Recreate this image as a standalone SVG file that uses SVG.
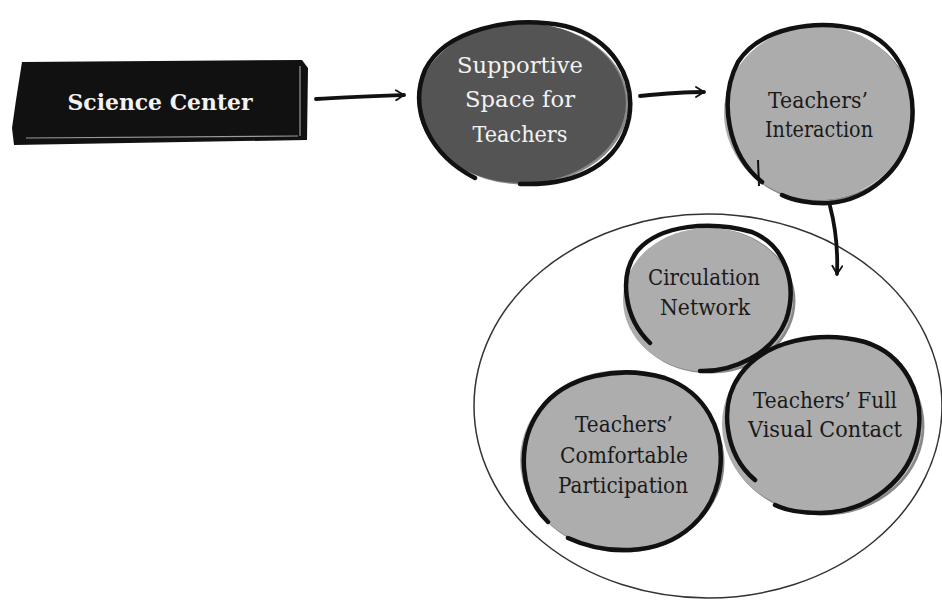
<svg xmlns="http://www.w3.org/2000/svg" width="942" height="603" viewBox="0 0 942 603">
  <style>
    .lbl { font-family: "DejaVu Serif", serif; font-size: 23px; text-anchor: middle; }
    .dark { fill: #f2f2f2; }
    .light { fill: #1a1a1a; }
    .ink { fill: none; stroke: #111; stroke-width: 4.5; stroke-linecap: round; }
    .halo { fill: none; stroke: #8a8a8a; stroke-width: 3; }
    .conn { fill: none; stroke: #111; stroke-width: 3.8; stroke-linecap: round; }
  </style>
  <defs>
    <marker id="chev" viewBox="0 0 12 12" refX="10" refY="6" markerWidth="12" markerHeight="12" markerUnits="userSpaceOnUse" orient="auto">
      <path d="M2 1 L10 6 L2 11" fill="none" stroke="#111" stroke-width="1.8" stroke-linecap="round"/>
    </marker>
  </defs>
  <rect width="942" height="603" fill="#ffffff"/>

  <!-- enclosing ellipse for the three interaction factors -->
  <ellipse cx="708" cy="406" rx="234" ry="192" fill="none" stroke="#333" stroke-width="1.5"/>

  <g id="science-center">
    <path d="M22 62 L302 60 L308 68 L307 140 L14 145 L12 128 L16 100 Z" fill="#111"/>
    <path d="M300 66 L300 136 M26 138 L298 136" stroke="#9a9a9a" stroke-width="1.2" fill="none"/>
    <text class="lbl dark" x="160" y="110" font-weight="bold" font-size="26" textLength="185" lengthAdjust="spacingAndGlyphs">Science Center</text>
  </g>

  <g id="supportive-space">
    <ellipse cx="524" cy="104" rx="103" ry="79" class="halo"/>
    <ellipse cx="522" cy="103" rx="104" ry="80" fill="#545454"/>
    <path d="M475 178 C430 155 408 110 425 70 C445 30 510 15 565 26 C612 38 636 78 629 118 C620 162 580 186 520 184" class="ink"/>
    <text class="lbl dark" x="520" y="73" font-size="27" textLength="126" lengthAdjust="spacingAndGlyphs">Supportive</text>
    <text class="lbl dark" x="520" y="107" font-size="27" textLength="110" lengthAdjust="spacingAndGlyphs">Space for</text>
    <text class="lbl dark" x="520" y="142" font-size="27" textLength="95" lengthAdjust="spacingAndGlyphs">Teachers</text>
  </g>

  <g id="teachers-interaction">
    <ellipse cx="820" cy="115" rx="93" ry="86" class="halo"/>
    <ellipse cx="818" cy="113" rx="94" ry="87" fill="#acacac"/>
    <path d="M762 182 C728 155 718 100 738 62 C760 28 815 18 860 30 C900 44 918 88 911 130 C903 172 866 200 830 203 C810 204 792 200 782 195" class="ink"/>
    <path d="M758 160 L759 186" stroke="#111" stroke-width="2" fill="none"/>
    <text class="lbl light" x="818" y="108" textLength="100" lengthAdjust="spacingAndGlyphs">Teachers’</text>
    <text class="lbl light" x="819" y="137" textLength="108" lengthAdjust="spacingAndGlyphs">Interaction</text>
  </g>

  <g id="circulation-network">
    <ellipse cx="710" cy="301" rx="84" ry="71" class="halo"/>
    <ellipse cx="708" cy="300" rx="85" ry="72" fill="#adadad"/>
    <path d="M650 343 C624 318 618 275 638 250 C660 225 710 220 752 232 C786 246 798 285 786 320 C772 355 732 372 700 371" class="ink"/>
    <text class="lbl light" x="704" y="285" textLength="112" lengthAdjust="spacingAndGlyphs">Circulation</text>
    <text class="lbl light" x="705" y="315" textLength="90" lengthAdjust="spacingAndGlyphs">Network</text>
  </g>

  <g id="full-visual-contact">
    <ellipse cx="824" cy="426" rx="99" ry="88" class="halo"/>
    <ellipse cx="822" cy="424" rx="100" ry="89" fill="#adadad"/>
    <path d="M755 480 C725 455 718 405 740 375 C765 340 820 330 865 342 C905 355 925 395 918 435 C910 480 870 512 820 513 C800 513 785 510 775 505" class="ink"/>
    <text class="lbl light" x="825" y="408" textLength="144" lengthAdjust="spacingAndGlyphs">Teachers’ Full</text>
    <text class="lbl light" x="825" y="437" textLength="154" lengthAdjust="spacingAndGlyphs">Visual Contact</text>
  </g>

  <g id="comfortable-participation">
    <ellipse cx="623" cy="462" rx="100" ry="89" class="halo"/>
    <ellipse cx="621" cy="460" rx="101" ry="90" fill="#adadad"/>
    <path d="M548 522 C520 495 515 445 540 410 C565 375 620 365 665 378 C705 392 725 430 720 470 C715 515 680 548 630 550 C605 551 585 546 568 538" class="ink"/>
    <text class="lbl light" x="624" y="432" textLength="98" lengthAdjust="spacingAndGlyphs">Teachers’</text>
    <text class="lbl light" x="624" y="463" textLength="128" lengthAdjust="spacingAndGlyphs">Comfortable</text>
    <text class="lbl light" x="623" y="493" textLength="130" lengthAdjust="spacingAndGlyphs">Participation</text>
  </g>

  <g id="connectors">
    <path d="M316 99 C345 97 375 96 404 95" class="conn" marker-end="url(#chev)"/>
    <path d="M640 96 C660 94 685 92 704 92" class="conn" marker-end="url(#chev)"/>
    <path d="M830 206 C835 225 838 250 837 274" class="conn" marker-end="url(#chev)"/>
  </g>
</svg>
